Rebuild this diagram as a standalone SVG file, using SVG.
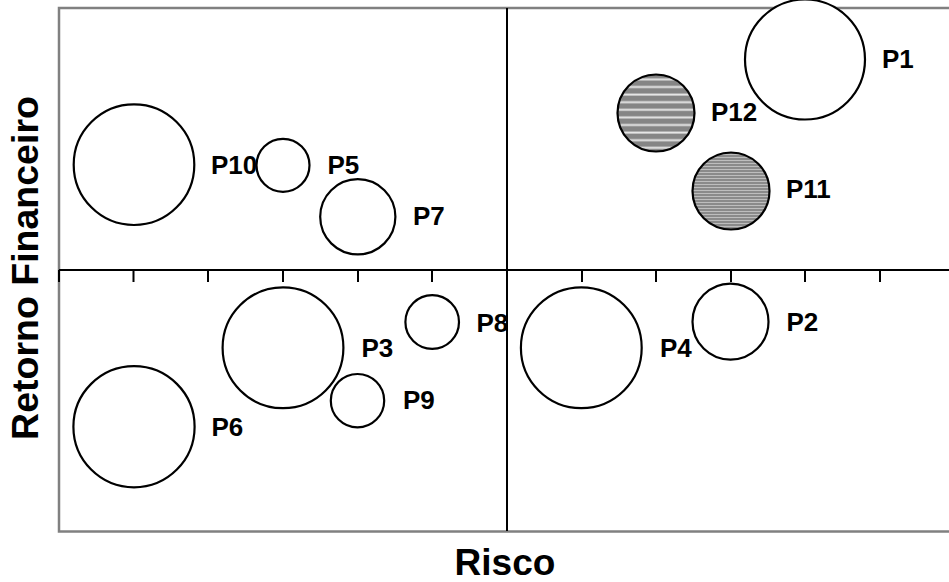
<svg xmlns="http://www.w3.org/2000/svg" width="949" height="582" viewBox="0 0 949 582">
<style>
.bub{fill:#fff;stroke:#000;stroke-width:2.2}
.lbl{font-family:"Liberation Sans",Arial,sans-serif;font-weight:bold;font-size:26px;fill:#000}
.ax{font-family:"Liberation Sans",Arial,sans-serif;font-weight:bold;font-size:37px;fill:#000}
.axis{stroke:#000;stroke-width:2;fill:none}
</style>
<defs>
<pattern id="hatchWide" patternUnits="userSpaceOnUse" x="0" y="0" width="8" height="7.6">
<rect width="8" height="7.6" fill="#858585"/>
<rect y="2.4" width="8" height="2" fill="#e6e6e6"/>
</pattern>
<pattern id="hatchFine" patternUnits="userSpaceOnUse" x="0" y="0" width="6" height="3">
<rect width="6" height="3" fill="#8a8a8a"/>
<rect y="1" width="6" height="1" fill="#bdbdbd"/>
</pattern>
</defs>
<rect x="0" y="0" width="949" height="582" fill="#fff"/>
<rect x="59" y="8" width="900" height="523.5" fill="#fff" stroke="#808080" stroke-width="2.5"/>
<g id="axes">
<line class="axis" x1="59" y1="270" x2="949" y2="270"/>
<line class="axis" x1="507" y1="8" x2="507" y2="531"/>
<path class="axis" d="M59,270V282M133.5,270V282M208,270V282M283,270V282M358,270V282M432,270V282M582,270V282M656,270V282M731,270V282M805,270V282M880,270V282"/>
</g>
<g id="P1"><circle class="bub" cx="805" cy="59.5" r="60"/><text class="lbl" x="882" y="68">P1</text></g>
<g id="P12"><circle class="bub" cx="656" cy="113" r="38.5" style="fill:url(#hatchWide)"/><text class="lbl" x="711" y="121">P12</text></g>
<g id="P11"><circle class="bub" cx="731" cy="191" r="38.5" style="fill:url(#hatchFine)"/><text class="lbl" x="786" y="198">P11</text></g>
<g id="P10"><circle class="bub" cx="134" cy="164.7" r="60.3"/><text class="lbl" x="211" y="174">P10</text></g>
<g id="P5"><circle class="bub" cx="283" cy="165.3" r="26.5"/><text class="lbl" x="327.5" y="174">P5</text></g>
<g id="P7"><circle class="bub" cx="357.8" cy="216.8" r="37.6"/><text class="lbl" x="413" y="225">P7</text></g>
<g id="P8"><circle class="bub" cx="432.2" cy="322" r="26.8"/><text class="lbl" x="476.5" y="331.5">P8</text></g>
<g id="P3"><circle class="bub" cx="283" cy="347.8" r="60.4"/><text class="lbl" x="361.5" y="356.5">P3</text></g>
<g id="P9"><circle class="bub" cx="357.5" cy="400.7" r="26.7"/><text class="lbl" x="403" y="409.3">P9</text></g>
<g id="P6"><circle class="bub" cx="134" cy="426.7" r="60.6"/><text class="lbl" x="211.5" y="435.5">P6</text></g>
<g id="P4"><circle class="bub" cx="581.3" cy="347.8" r="60.4"/><text class="lbl" x="660" y="357">P4</text></g>
<g id="P2"><circle class="bub" cx="730.5" cy="321.7" r="38"/><text class="lbl" x="786.5" y="331">P2</text></g>
<text class="ax" x="505" y="575" text-anchor="middle">Risco</text>
<text class="ax" transform="translate(37.5,268) rotate(-90)" text-anchor="middle" style="font-size:37.5px">Retorno Financeiro</text>
</svg>
